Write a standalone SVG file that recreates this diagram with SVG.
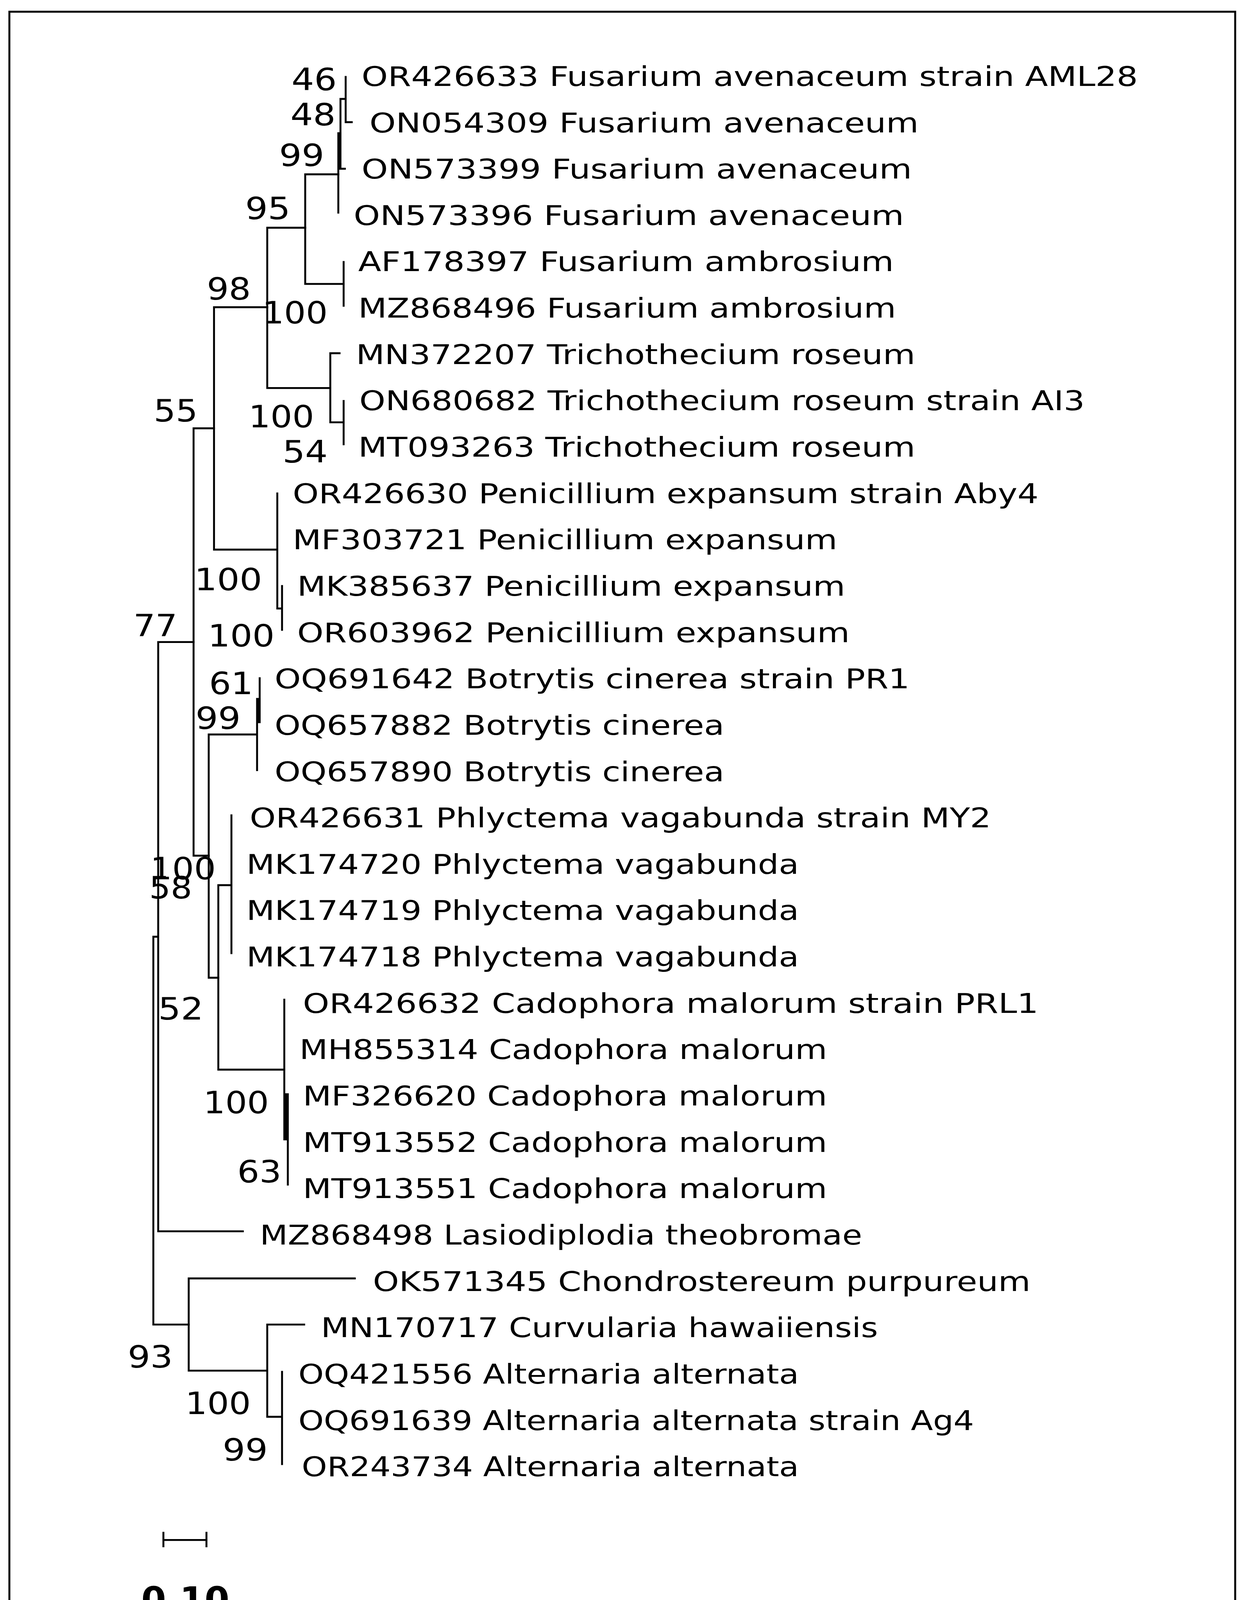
<svg xmlns="http://www.w3.org/2000/svg" width="3181" height="4517" viewBox="0 0 3181 4517">
<style>
.l{font-family:"DejaVu Sans","Liberation Sans",sans-serif;font-size:24px;fill:#000}
.b{font-family:"DejaVu Sans","Liberation Sans",sans-serif;font-size:27px;fill:#000}
.e{stroke:#000;stroke-width:1.7;fill:none;stroke-linecap:square}
</style>
<rect x="0" y="0" width="3181" height="4517" fill="#fff"/>
<rect x="24" y="30" width="3137" height="4464" fill="none" stroke="#000" stroke-width="5"/>
<g transform="scale(2.8918,2.8937)">
<g id="connectors" class="e">
<path d="M305.9 68.1V108.1H311.3M301.3 87.5H305.9M301.3 87.5V149.3H305.2M299.4 117.8H301.3M299.4 117.8V188.1M300.3 117.8V149.3"/>
<path d="M270.1 154.2H299.4M270.1 154.2V251.2H304.1M304.1 231.8V270.5"/>
<path d="M236.5 201.5H270.1M236.5 201.5V343.3H292.3M292.3 312.5V373.6M292.3 312.5H300.5M292.3 373.6H304.1M304.1 354.7V393"/>
<path d="M189.4 271.8H236.5M189.4 271.8V486.2H245.4M245.4 436.5V538.3H249.6M249.6 518.4V557.2"/>
<path d="M171.3 378.9H189.4M171.3 378.9V757H184.7"/>
<path d="M184.7 649.8V865H193.2M184.7 649.8H227.5M227.5 618.3V681.3M227.5 618.3H229.8M229.8 600V638.9M228.6 618.3V638.9"/>
<path d="M193.2 783.1V946.3H251.6M193.2 783.1H204.8M204.8 721.3V843.2"/>
<path d="M251.6 884.4V1008H254.7M254.7 968V1048M253.2 968V1008"/>
<path d="M140 568H171.3M140 568V1089.3H214.9M135.7 828.7H140M135.7 828.7V1171.8H167"/>
<path d="M167 1131V1212.6H236.5M167 1131H314M236.5 1171.8V1253.4H249.6M236.5 1171.8H269.2M249.6 1213.7V1295.2"/>
</g>
<g id="leaves">
<text class="l" x="320" y="76" textLength="687" lengthAdjust="spacingAndGlyphs">OR426633 Fusarium avenaceum strain AML28</text>
<text class="l" x="327" y="117" textLength="486" lengthAdjust="spacingAndGlyphs">ON054309 Fusarium avenaceum</text>
<text class="l" x="320" y="158" textLength="487" lengthAdjust="spacingAndGlyphs">ON573399 Fusarium avenaceum</text>
<text class="l" x="313" y="199" textLength="487" lengthAdjust="spacingAndGlyphs">ON573396 Fusarium avenaceum</text>
<text class="l" x="317" y="240" textLength="474" lengthAdjust="spacingAndGlyphs">AF178397 Fusarium ambrosium</text>
<text class="l" x="317" y="281" textLength="476" lengthAdjust="spacingAndGlyphs">MZ868496 Fusarium ambrosium</text>
<text class="l" x="315" y="322" textLength="495" lengthAdjust="spacingAndGlyphs">MN372207 Trichothecium roseum</text>
<text class="l" x="318" y="363" textLength="642" lengthAdjust="spacingAndGlyphs">ON680682 Trichothecium roseum strain AI3</text>
<text class="l" x="317" y="404" textLength="493" lengthAdjust="spacingAndGlyphs">MT093263 Trichothecium roseum</text>
<text class="l" x="259" y="445" textLength="660" lengthAdjust="spacingAndGlyphs">OR426630 Penicillium expansum strain Aby4</text>
<text class="l" x="259" y="486" textLength="482" lengthAdjust="spacingAndGlyphs">MF303721 Penicillium expansum</text>
<text class="l" x="263" y="527" textLength="485" lengthAdjust="spacingAndGlyphs">MK385637 Penicillium expansum</text>
<text class="l" x="263" y="568" textLength="489" lengthAdjust="spacingAndGlyphs">OR603962 Penicillium expansum</text>
<text class="l" x="243" y="609" textLength="562" lengthAdjust="spacingAndGlyphs">OQ691642 Botrytis cinerea strain PR1</text>
<text class="l" x="243" y="650" textLength="398" lengthAdjust="spacingAndGlyphs">OQ657882 Botrytis cinerea</text>
<text class="l" x="243" y="691" textLength="398" lengthAdjust="spacingAndGlyphs">OQ657890 Botrytis cinerea</text>
<text class="l" x="221" y="732" textLength="656" lengthAdjust="spacingAndGlyphs">OR426631 Phlyctema vagabunda strain MY2</text>
<text class="l" x="218" y="773" textLength="489" lengthAdjust="spacingAndGlyphs">MK174720 Phlyctema vagabunda</text>
<text class="l" x="218" y="814" textLength="489" lengthAdjust="spacingAndGlyphs">MK174719 Phlyctema vagabunda</text>
<text class="l" x="218" y="855" textLength="489" lengthAdjust="spacingAndGlyphs">MK174718 Phlyctema vagabunda</text>
<text class="l" x="268" y="896" textLength="651" lengthAdjust="spacingAndGlyphs">OR426632 Cadophora malorum strain PRL1</text>
<text class="l" x="265" y="937" textLength="467" lengthAdjust="spacingAndGlyphs">MH855314 Cadophora malorum</text>
<text class="l" x="268" y="978" textLength="464" lengthAdjust="spacingAndGlyphs">MF326620 Cadophora malorum</text>
<text class="l" x="268" y="1019" textLength="464" lengthAdjust="spacingAndGlyphs">MT913552 Cadophora malorum</text>
<text class="l" x="268" y="1060" textLength="464" lengthAdjust="spacingAndGlyphs">MT913551 Cadophora malorum</text>
<text class="l" x="230" y="1101" textLength="533" lengthAdjust="spacingAndGlyphs">MZ868498 Lasiodiplodia theobromae</text>
<text class="l" x="330" y="1142" textLength="582" lengthAdjust="spacingAndGlyphs">OK571345 Chondrostereum purpureum</text>
<text class="l" x="284" y="1183" textLength="493" lengthAdjust="spacingAndGlyphs">MN170717 Curvularia hawaiiensis</text>
<text class="l" x="264" y="1224" textLength="443" lengthAdjust="spacingAndGlyphs">OQ421556 Alternaria alternata</text>
<text class="l" x="264" y="1265" textLength="598" lengthAdjust="spacingAndGlyphs">OQ691639 Alternaria alternata strain Ag4</text>
<text class="l" x="267" y="1306" textLength="440" lengthAdjust="spacingAndGlyphs">OR243734 Alternaria alternata</text>
</g>
<g id="bootstrap">
<text class="b" x="258" y="80" textLength="40" lengthAdjust="spacingAndGlyphs">46</text>
<text class="b" x="257" y="111" textLength="40" lengthAdjust="spacingAndGlyphs">48</text>
<text class="b" x="247" y="147" textLength="40" lengthAdjust="spacingAndGlyphs">99</text>
<text class="b" x="217" y="194" textLength="40" lengthAdjust="spacingAndGlyphs">95</text>
<text class="b" x="183" y="265" textLength="39" lengthAdjust="spacingAndGlyphs">98</text>
<text class="b" x="232" y="286" textLength="58" lengthAdjust="spacingAndGlyphs">100</text>
<text class="b" x="136" y="373" textLength="39" lengthAdjust="spacingAndGlyphs">55</text>
<text class="b" x="220" y="378" textLength="58" lengthAdjust="spacingAndGlyphs">100</text>
<text class="b" x="250" y="409" textLength="40" lengthAdjust="spacingAndGlyphs">54</text>
<text class="b" x="172" y="522" textLength="60" lengthAdjust="spacingAndGlyphs">100</text>
<text class="b" x="184" y="572" textLength="59" lengthAdjust="spacingAndGlyphs">100</text>
<text class="b" x="118" y="563" textLength="39" lengthAdjust="spacingAndGlyphs">77</text>
<text class="b" x="185" y="614" textLength="39" lengthAdjust="spacingAndGlyphs">61</text>
<text class="b" x="173" y="645" textLength="40" lengthAdjust="spacingAndGlyphs">99</text>
<text class="b" x="133" y="778" textLength="58" lengthAdjust="spacingAndGlyphs">100</text>
<text class="b" x="132" y="795" textLength="38" lengthAdjust="spacingAndGlyphs">58</text>
<text class="b" x="140" y="902" textLength="40" lengthAdjust="spacingAndGlyphs">52</text>
<text class="b" x="180" y="985" textLength="58" lengthAdjust="spacingAndGlyphs">100</text>
<text class="b" x="210" y="1046" textLength="39" lengthAdjust="spacingAndGlyphs">63</text>
<text class="b" x="113" y="1210" textLength="40" lengthAdjust="spacingAndGlyphs">93</text>
<text class="b" x="164" y="1251" textLength="58" lengthAdjust="spacingAndGlyphs">100</text>
<text class="b" x="197" y="1292" textLength="40" lengthAdjust="spacingAndGlyphs">99</text>
</g>
<g id="scalebar">
<path class="e" d="M144.6 1362.4H182.7M144.6 1356V1368M182.7 1356V1368"/>
<text x="125" y="1426" font-family="DejaVu Sans, Liberation Sans, sans-serif" font-size="31" font-weight="bold" textLength="78" lengthAdjust="spacingAndGlyphs">0.10</text>
</g>
</g>
</svg>
